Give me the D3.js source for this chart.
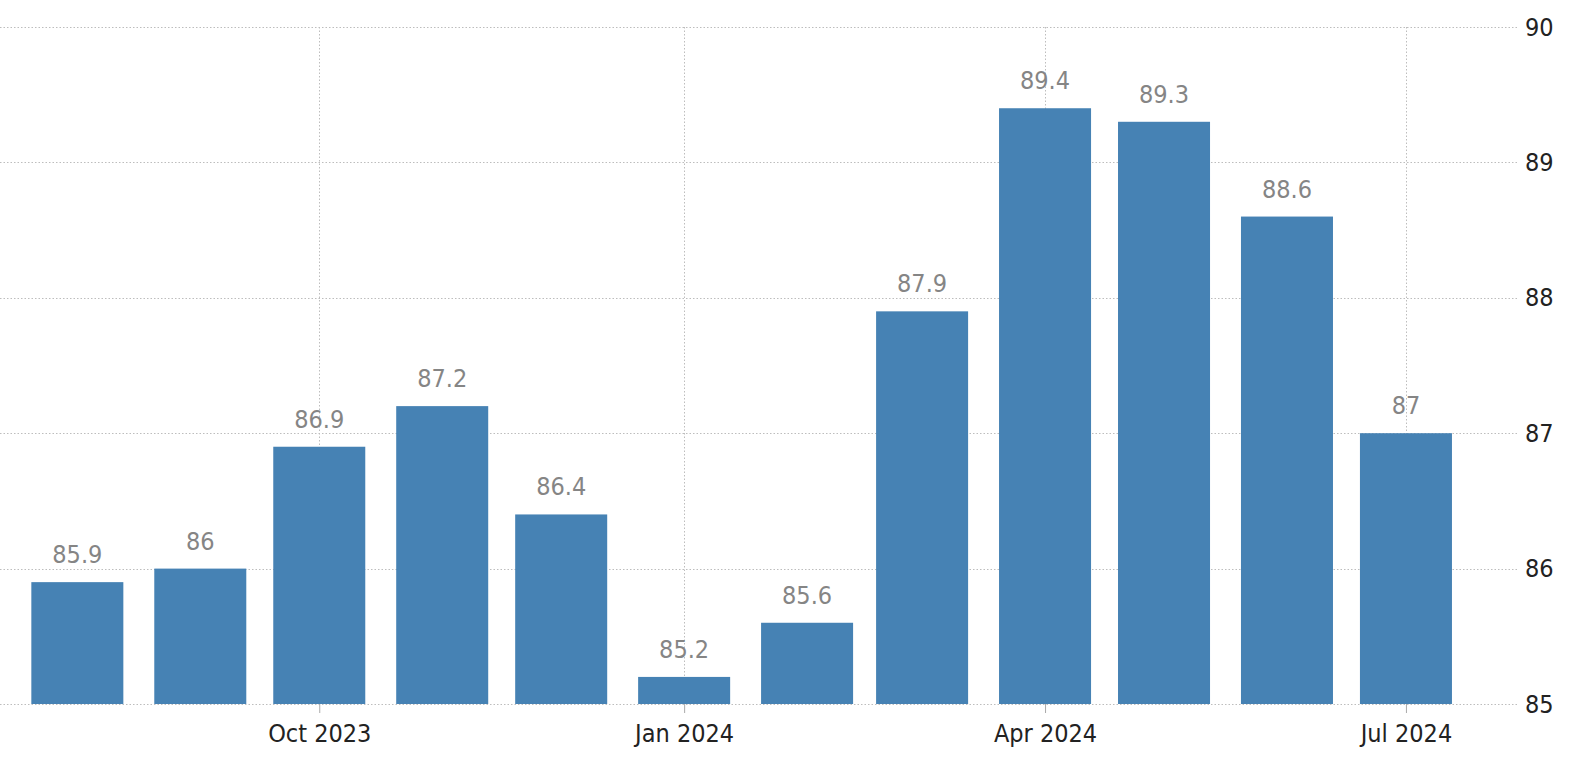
<!DOCTYPE html>
<html>
<head>
<meta charset="utf-8">
<script src="https://cdn.jsdelivr.net/npm/d3@7"></script>
<style>
  html, body { margin: 0; padding: 0; background: #fff; }
  svg { display: block; }
  text { font-family: "DejaVu Sans Condensed", "DejaVu Sans", sans-serif; font-stretch: condensed; }
</style>
</head>
<body>
<svg id="chart" width="1588" height="766"></svg>
<script>
const months = ["2023-08-01","2023-09-01","2023-10-01","2023-11-01","2023-12-01","2024-01-01",
                "2024-02-01","2024-03-01","2024-04-01","2024-05-01","2024-06-01","2024-07-01"];
const values = [85.9, 86, 86.9, 87.2, 86.4, 85.2, 85.6, 87.9, 89.4, 89.3, 88.6, 87];
const xTickDates = ["2023-10-01","2024-01-01","2024-04-01","2024-07-01"];
const yTicks = [85, 86, 87, 88, 89, 90];

const parse = d3.utcParse("%Y-%m-%d");
const data = months.map((m, i) => ({ date: parse(m), value: values[i] }));

const svg = d3.select("#chart");
const plotLeft = 0, plotRight = 1517, plotTop = 27, plotBottom = 704;

const x = d3.scaleUtc()
  .domain([new Date(Date.UTC(2023, 6, 12, 12)), new Date(Date.UTC(2024, 6, 29))])
  .range([plotLeft, plotRight]);
const y = d3.scaleLinear().domain([85, 90]).range([plotBottom, plotTop]);

const barW = 0.8 * (x(parse("2024-03-01")) - x(parse("2024-02-01")));

// horizontal grid
svg.append("g").selectAll("line").data(yTicks).join("line")
  .attr("x1", plotLeft).attr("x2", plotRight)
  .attr("y1", d => Math.round(y(d)) + 0.5).attr("y2", d => Math.round(y(d)) + 0.5)
  .attr("stroke", "#bdbdbd").attr("stroke-width", 1).attr("stroke-dasharray", "1.5,2");

// vertical grid
svg.append("g").selectAll("line").data(xTickDates.map(parse)).join("line")
  .attr("x1", d => Math.round(x(d)) + 0.5).attr("x2", d => Math.round(x(d)) + 0.5)
  .attr("y1", plotTop).attr("y2", plotBottom)
  .attr("stroke", "#bdbdbd").attr("stroke-width", 1).attr("stroke-dasharray", "1.5,2");

// bars
svg.append("g").selectAll("rect").data(data).join("rect")
  .attr("x", d => x(d.date) - barW / 2)
  .attr("width", barW)
  .attr("y", d => y(d.value))
  .attr("height", d => y(85) - y(d.value))
  .attr("fill", "#4682b4");

// value labels
svg.append("g").selectAll("text").data(data).join("text")
  .attr("x", d => x(d.date))
  .attr("y", d => y(d.value) - 19)
  .attr("text-anchor", "middle")
  .attr("font-size", 25)
  .attr("fill", "#858585")
  .text(d => d3.format("")(d.value));

// x axis
const xAxis = d3.axisBottom(x)
  .tickValues(xTickDates.map(parse))
  .tickFormat(d3.utcFormat("%b %Y"))
  .tickSize(9)
  .tickPadding(11);
const gx = svg.append("g").attr("transform", `translate(0,${plotBottom})`).call(xAxis);
gx.select(".domain").remove();
gx.selectAll(".tick line").attr("stroke", "#aaa");
gx.selectAll(".tick text").attr("font-size", 25).attr("fill", "#222")
  .style("font-family", '"DejaVu Sans Condensed", "DejaVu Sans", sans-serif');

// y axis
const yAxis = d3.axisRight(y).tickValues(yTicks).tickSize(0).tickPadding(8).tickFormat(d3.format("d"));
const gy = svg.append("g").attr("transform", `translate(${plotRight},0)`).call(yAxis);
gy.select(".domain").remove();
gy.selectAll(".tick text").attr("font-size", 25).attr("fill", "#222")
  .style("font-family", '"DejaVu Sans Condensed", "DejaVu Sans", sans-serif');
</script>
</body>
</html>
